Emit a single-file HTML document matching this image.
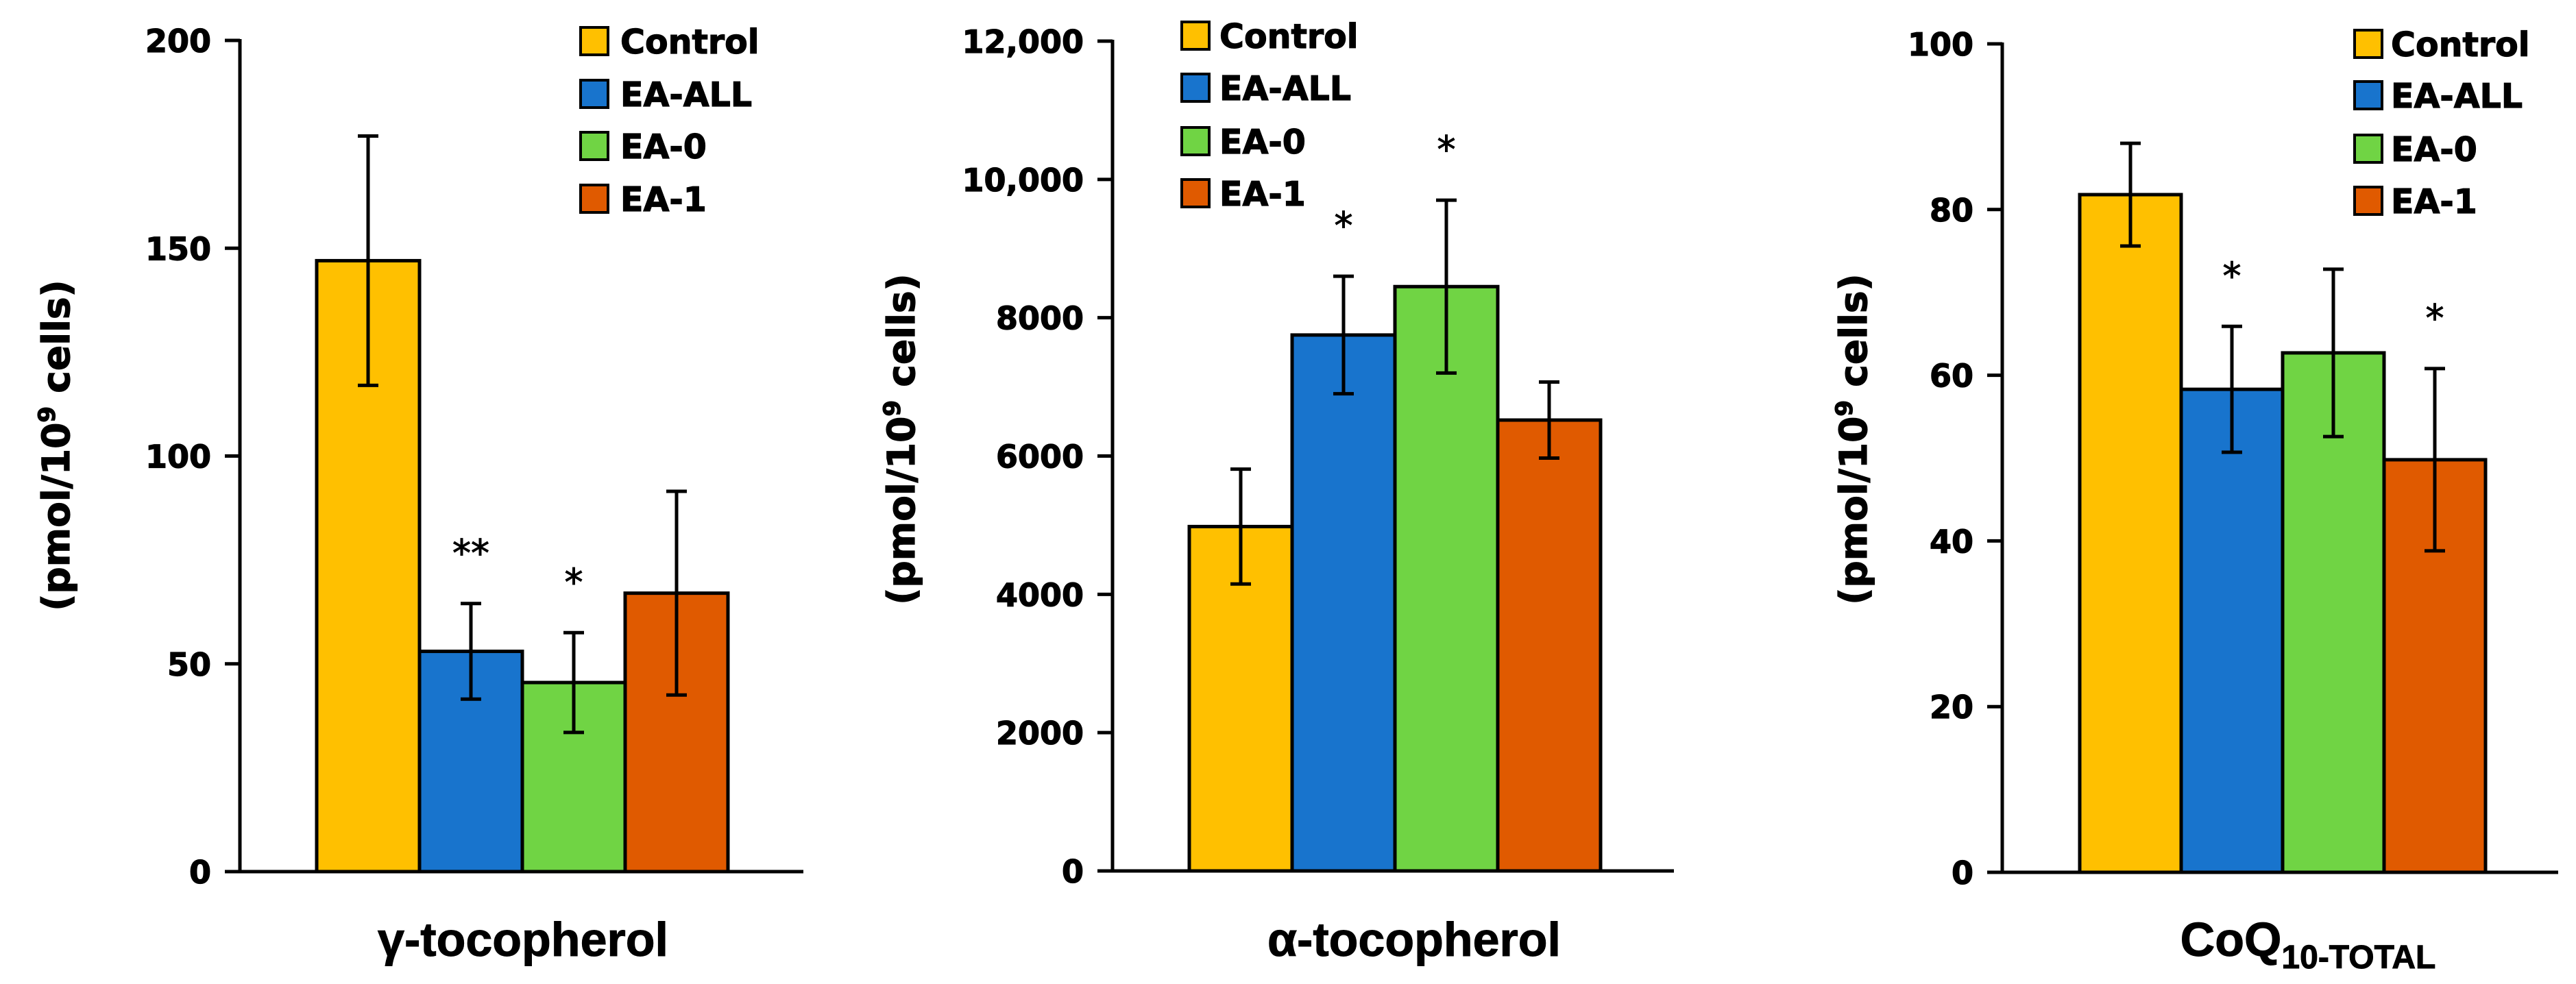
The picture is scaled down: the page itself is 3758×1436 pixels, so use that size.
<!DOCTYPE html>
<html><head><meta charset="utf-8"><style>
html,body{margin:0;padding:0;background:#fff;}
svg{display:block;}
.tk{font-family:"DejaVu Sans","Liberation Sans",sans-serif;font-weight:bold;font-size:46px;fill:#000;stroke:#000;stroke-width:1.2px;}
.lg{font-family:"DejaVu Sans","Liberation Sans",sans-serif;font-weight:bold;font-size:49px;fill:#000;stroke:#000;stroke-width:1.2px;}
.yt{font-family:"DejaVu Sans","Liberation Sans",sans-serif;font-weight:bold;font-size:55px;fill:#000;stroke:#000;stroke-width:1.2px;}
.xt{font-family:"Liberation Sans",sans-serif;font-weight:bold;font-size:70px;fill:#000;stroke:#000;stroke-width:1px;}
.st{font-family:"DejaVu Sans","Liberation Sans",sans-serif;font-size:54px;fill:#000;stroke:#000;stroke-width:1px;}
</style></head><body>
<svg id="chart" width="3758" height="1436" viewBox="0 0 3758 1436" xmlns="http://www.w3.org/2000/svg"></svg>
<script>
const groups = ["Control","EA-ALL","EA-0","EA-1"];
const colors = ["#FFC000","#1874CD","#70D444","#E05A00"];
const gammaValues = [147, 53, 45.5, 67];
const gammaErrors = [30, 11.5, 12, 24.5];
const gammaStars = ["", "**", "*", ""];
const gammaTicks = [0, 50, 100, 150, 200];
const gammaTickLabels = ["0","50","100","150","200"];
const alphaValues = [4980, 7750, 8450, 6520];
const alphaErrors = [830, 850, 1250, 550];
const alphaStars = ["", "*", "*", ""];
const alphaTicks = [0, 2000, 4000, 6000, 8000, 10000, 12000];
const alphaTickLabels = ["0","2000","4000","6000","8000","10,000","12,000"];
const coqValues = [81.8, 58.3, 62.7, 49.8];
const coqErrors = [6.2, 7.6, 10.1, 11];
const coqStars = ["", "*", "", "*"];
const coqTicks = [0, 20, 40, 60, 80, 100];
const coqTickLabels = ["0","20","40","60","80","100"];

const NS = "http://www.w3.org/2000/svg";
const svg = document.getElementById("chart");
function mk(tag, attrs, parent){const e=document.createElementNS(NS,tag);for(const k in attrs)e.setAttribute(k,attrs[k]);(parent||svg).appendChild(e);return e;}

const panels = [
 {name:"gamma", values:gammaValues, errors:gammaErrors, stars:gammaStars, ticks:gammaTicks, labels:gammaTickLabels, max:200,
  axisX:350, zeroY:1272, topY:59, axisEnd:1172, barX:462, barW:150, legX:847, legTextX:905, legY:[60,137,213,290], ytX:83, ytY:650, xtX:763, xtLabel:"γ-tocopherol"},
 {name:"alpha", values:alphaValues, errors:alphaErrors, stars:alphaStars, ticks:alphaTicks, labels:alphaTickLabels, max:12000,
  axisX:1623, zeroY:1271, topY:60, axisEnd:2442, barX:1735, barW:150, legX:1724, legTextX:1779, legY:[52,128,206,282], ytX:1316, ytY:641, xtX:2063, xtLabel:"α-tocopherol"},
 {name:"coq", values:coqValues, errors:coqErrors, stars:coqStars, ticks:coqTicks, labels:coqTickLabels, max:100,
  axisX:2921, zeroY:1273, topY:64, axisEnd:3732, barX:3034, barW:148, legX:3435, legTextX:3488, legY:[64,139,217,293], ytX:2705, ytY:641, xtX:3367, xtLabel:"CoQ"}
];

panels.forEach(p=>{
  const g = mk("g",{});
  
  
  const yS = v => p.zeroY - (v/p.max)*(p.zeroY-p.topY);
  p.values.forEach((v,i)=>{
    const x = p.barX + i*p.barW;
    const r = mk("rect",{x:x,y:yS(v),width:p.barW,height:p.zeroY-yS(v),fill:colors[i],stroke:"#000","stroke-width":5},g);
    
    
  });
  p.values.forEach((v,i)=>{
    const cx = p.barX + i*p.barW + p.barW/2;
    const e = p.errors[i];
    const eg = mk("g",{stroke:"#000","stroke-width":5,fill:"none"},g);
    
    
    mk("line",{x1:cx,x2:cx,y1:yS(v+e),y2:yS(v-e)},eg);
    mk("line",{x1:cx-15,x2:cx+15,y1:yS(v+e),y2:yS(v+e)},eg);
    mk("line",{x1:cx-15,x2:cx+15,y1:yS(v-e),y2:yS(v-e)},eg);
    if(p.stars[i]){
      const t = mk("text",{x:cx,y:yS(v+e)-55,"text-anchor":"middle","class":"st"},g);
      t.textContent = p.stars[i];
      
      
    }
  });
  const ax = mk("g",{stroke:"#000","stroke-width":5},g);
  
  
  mk("line",{x1:p.axisX,x2:p.axisX,y1:p.topY-2,y2:p.zeroY},ax);
  mk("line",{x1:p.axisX-22,x2:p.axisEnd,y1:p.zeroY,y2:p.zeroY},ax);
  p.ticks.forEach((t,i)=>{
    mk("line",{x1:p.axisX-22,x2:p.axisX,y1:yS(t),y2:yS(t)},ax);
    const tl = mk("text",{x:p.axisX-42,y:yS(t)+17,"text-anchor":"end","class":"tk"},g);
    tl.textContent = p.labels[i];
    
    
  });
  const yt = mk("text",{x:0,y:0,"text-anchor":"middle","class":"yt",transform:`translate(${p.ytX+18},${p.ytY}) rotate(-90)`},g);
  
  
  yt.appendChild(document.createTextNode("(pmol/10"));
  const sup = mk("tspan",{"font-size":"34","dy":"-21"},yt); sup.textContent="9";
  const rest = mk("tspan",{"dy":"21"},yt); rest.textContent=" cells)";
  const xt = mk("text",{x:p.xtX,y:1395,"text-anchor":"middle","class":"xt"},g);
  
  
  xt.appendChild(document.createTextNode(p.xtLabel));
  if(p.name==="coq"){
    const sb = mk("tspan",{"font-size":"48","dy":"18"},xt); sb.textContent="10-TOTAL";
  }
  groups.forEach((gname,i)=>{
    const lg = mk("g",{},g);
    
    
    mk("rect",{x:p.legX,y:p.legY[i]-20,width:40,height:40,fill:colors[i],stroke:"#000","stroke-width":4},lg);
    const lt = mk("text",{x:p.legTextX,y:p.legY[i]+18,"class":"lg"},lg);
    lt.textContent = gname;
  });
});
</script>
</body></html>
